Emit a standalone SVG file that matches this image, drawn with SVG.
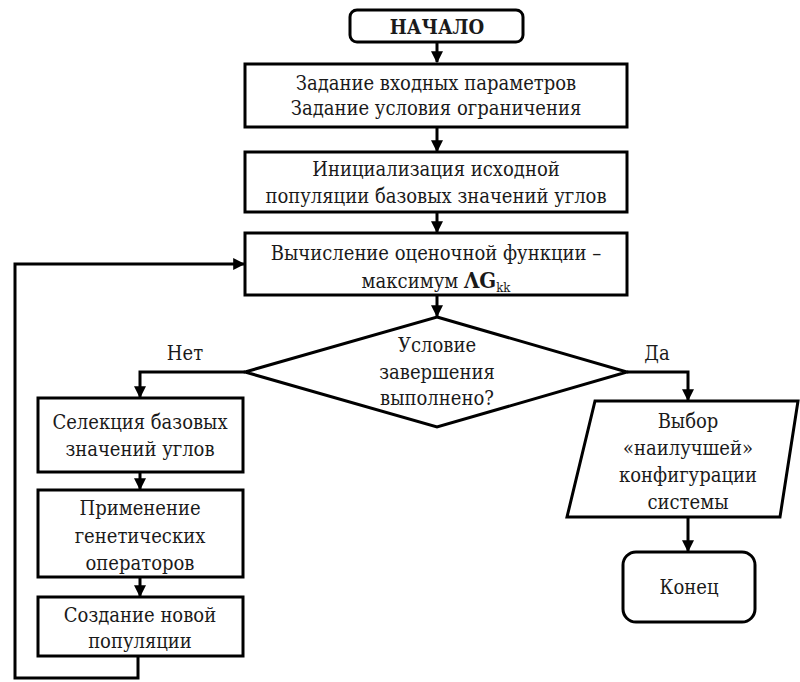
<svg xmlns="http://www.w3.org/2000/svg" width="800" height="682" viewBox="0 0 800 682">
<defs>
<style>
.b{fill:#fff;stroke:#000;stroke-width:3}
.t{font-family:'DejaVu Serif Condensed','DejaVu Serif','Liberation Serif',serif;font-stretch:condensed;font-size:20px;fill:#1a1a1a;text-anchor:middle}
.c{fill:none;stroke:#000;stroke-width:3}
</style>
<marker id="a" viewBox="0 0 10 10" refX="9" refY="5" markerWidth="4" markerHeight="4" orient="auto" markerUnits="strokeWidth">
<path d="M0,0 L10,5 L0,10 z" fill="#000"/>
</marker>
</defs>
<rect width="800" height="682" fill="#fff"/>
<g id="connectors">
<path class="c" d="M437,42 V62" marker-end="url(#a)"/>
<path class="c" d="M437,127 V151" marker-end="url(#a)"/>
<path class="c" d="M437,212 V232" marker-end="url(#a)"/>
<path class="c" d="M437,295 V316" marker-end="url(#a)"/>
<path class="c" d="M245,372 H140 V397" marker-end="url(#a)"/>
<path class="c" d="M140,472 V489" marker-end="url(#a)"/>
<path class="c" d="M140,577 V596" marker-end="url(#a)"/>
<path class="c" d="M138,656 V678 H15 V264 H244" marker-end="url(#a)"/>
<path class="c" d="M627,372 H688 V400" marker-end="url(#a)"/>
<path class="c" d="M688,517 V551" marker-end="url(#a)"/>
</g>
<g id="start">
<rect class="b" x="350" y="10" width="173" height="32" rx="7"/>
<text class="t" x="437" y="34" font-weight="bold" font-size="22">НАЧАЛО</text>
</g>
<g id="input">
<rect class="b" x="245" y="64" width="382" height="63"/>
<text class="t" x="436" y="90">Задание входных параметров</text>
<text class="t" x="436" y="115">Задание условия ограничения</text>
</g>
<g id="init">
<rect class="b" x="245" y="152" width="382" height="60"/>
<text class="t" x="436" y="176">Инициализация исходной</text>
<text class="t" x="436" y="203">популяции базовых значений углов</text>
</g>
<g id="eval">
<rect class="b" x="245" y="233" width="382" height="62"/>
<text class="t" x="436" y="260">Вычисление оценочной функции –</text>
<text class="t" x="436" y="288">максимум <tspan font-weight="bold" font-size="22">ΛG</tspan><tspan font-size="13" dy="4">kk</tspan></text>
</g>
<g id="cond">
<polygon class="b" points="437,317 627,372 437,427 245,372"/>
<text class="t" x="437" y="352">Условие</text>
<text class="t" x="437" y="379">завершения</text>
<text class="t" x="437" y="405">выполнено?</text>
</g>
<text class="t" x="185" y="360">Нет</text>
<text class="t" x="657" y="360">Да</text>
<g id="selection">
<rect class="b" x="38" y="398" width="205" height="74"/>
<text class="t" x="140" y="429">Селекция базовых</text>
<text class="t" x="140" y="456">значений углов</text>
</g>
<g id="operators">
<rect class="b" x="38" y="490" width="205" height="87"/>
<text class="t" x="140" y="515">Применение</text>
<text class="t" x="140" y="543">генетических</text>
<text class="t" x="140" y="570">операторов</text>
</g>
<g id="newpop">
<rect class="b" x="38" y="597" width="205" height="59"/>
<text class="t" x="140" y="622">Создание новой</text>
<text class="t" x="140" y="648">популяции</text>
</g>
<g id="best">
<polygon class="b" points="595,401 798,401 780,517 567,517"/>
<text class="t" x="688" y="428">Выбор</text>
<text class="t" x="688" y="455">«наилучшей»</text>
<text class="t" x="688" y="482">конфигурации</text>
<text class="t" x="688" y="509">системы</text>
</g>
<g id="end">
<rect class="b" x="623" y="552" width="132" height="70" rx="13"/>
<text class="t" x="689" y="594">Конец</text>
</g>
</svg>
